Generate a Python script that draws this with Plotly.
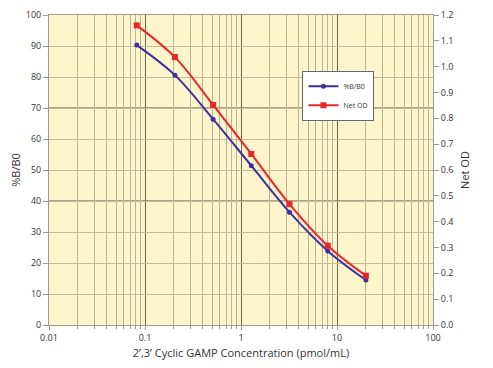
import plotly.graph_objects as go

conc = [0.082, 0.205, 0.512, 1.28, 3.2, 8.0, 20.0]
pct_b_b0 = [90.3, 80.6, 66.4, 51.4, 36.4, 23.9, 14.5]
net_od = [1.16, 1.037, 0.852, 0.662, 0.468, 0.307, 0.191]

x_ticks = [0.01, 0.1, 1, 10, 100]
x_tick_labels = ["0.01", "0.1", "1", "10", "100"]
minor_vals = [m * d for d in [0.01, 0.1, 1, 10] for m in range(2, 10)]

font = "Open Sans"
fig = go.Figure()
fig.add_trace(go.Scatter(x=conc, y=pct_b_b0, name="%B/B0", mode="lines+markers",
                         line=dict(color="#3F2FA0", width=2, shape="spline"),
                         marker=dict(symbol="circle", size=5, color="#3F2FA0")))
fig.add_trace(go.Scatter(x=conc, y=net_od, name="Net OD", mode="lines+markers", yaxis="y2",
                         line=dict(color="#E8262B", width=2, shape="spline"),
                         marker=dict(symbol="square", size=6, color="#E8262B")))

for yv in [70, 40]:
    fig.add_shape(type="line", xref="paper", x0=0, x1=1, yref="y", y0=yv, y1=yv,
                  line=dict(color="#5a5040", width=1), layer="below")

fig.update_layout(
    width=485, height=360,
    margin=dict(l=41, r=60, t=7, b=43),
    paper_bgcolor="white", plot_bgcolor="#FFF5CA",
    font=dict(family=font, size=9, color="#333333"),
    showlegend=True,
    legend=dict(x=0.66, y=0.82, xanchor="left", yanchor="top", bgcolor="white",
                bordercolor="#666666", borderwidth=1, font=dict(size=7),
                itemwidth=30, tracegroupgap=0),
    xaxis=dict(type="log", range=[-2, 2], tickvals=x_ticks, ticktext=x_tick_labels,
               automargin=False,
               showgrid=True, gridcolor="#6b6350", gridwidth=1,
               minor=dict(tickvals=minor_vals, showgrid=True, gridcolor="#BDB396", gridwidth=1,
                          ticks="outside", ticklen=3, tickcolor="#999999"),
               ticks="outside", ticklen=4, tickcolor="#999999",
               showline=True, linecolor="#999999", mirror=True, zeroline=False,
               title=dict(text="2\u2019,3\u2019 Cyclic GAMP Concentration (pmol/mL)",
                          font=dict(size=11), standoff=6)),
    yaxis=dict(range=[0, 100], dtick=10, showgrid=True, gridcolor="#C4BA9C",
               automargin=False,
               ticks="outside", ticklen=5, tickcolor="#999999",
               showline=True, linecolor="#999999", zeroline=False,
               title=dict(text="%B/B0", font=dict(size=11), standoff=8)),
    yaxis2=dict(range=[0, 1.2], dtick=0.1, tickformat=".1f", overlaying="y", side="right",
                automargin=False,
                showgrid=False, ticks="outside", ticklen=5, tickcolor="#999999",
                showline=True, linecolor="#999999", zeroline=False,
                title=dict(text="Net OD", font=dict(size=11), standoff=8)),
)

fig.write_html("out.html")
